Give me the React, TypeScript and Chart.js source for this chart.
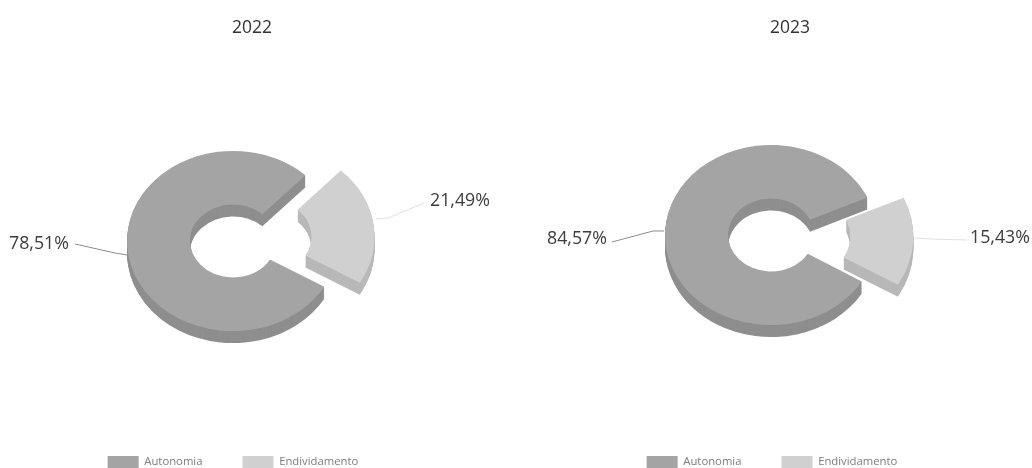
import React, { useEffect, useRef } from "react";
import { Chart, registerables, ArcElement } from "chart.js";

Chart.register(...registerables);

const categories = ["Autonomia", "Endividamento"];
const values2022 = [78.51, 21.49];
const values2023 = [84.57, 15.43];
const faceColors = ["#a4a4a4", "#d0d0d0"];
const sideColors = ["#8e8e8e", "#b8b8b8"];
const FONT = "'Open Sans', sans-serif";

type Conf = {
  title: string;
  values: number[];
  rotation: number;
  offset: number;
  left: number;
  width: number;
  center: [number, number];
  legendCenter: number;
  labels: { x: number; y: number; align: CanvasTextAlign; line: number[][]; color: string }[];
};

const RADIUS = 106;
const SQUASH = 0.85;
const DEPTH = 12;

const charts: Conf[] = [
  {
    title: "2022",
    values: values2022,
    rotation: 120.5,
    offset: 140,
    left: 0,
    width: 504,
    center: [233, 241],
    legendCenter: 233,
    labels: [
      { x: 9, y: 244, align: "left", color: "#8c8c8c", line: [[75, 244], [115, 253], [127, 255]] },
      { x: 430, y: 201, align: "left", color: "#e0e0e0", line: [[424, 203], [388, 218], [376, 219]] },
    ],
  },
  {
    title: "2023",
    values: values2023,
    rotation: 121,
    offset: 124,
    left: 530,
    width: 520,
    center: [241, 235],
    legendCenter: 242,
    labels: [
      { x: 17, y: 239, align: "left", color: "#8c8c8c", line: [[82, 242], [123, 231], [134, 231]] },
      { x: 440, y: 238, align: "left", color: "#e0e0e0", line: [[437, 240], [400, 239], [385, 238]] },
    ],
  },
];

function makePlugin(c: Conf) {
  return {
    id: "tilt",
    afterLayout(chart: any) {
      const lg = chart.legend;
      const dx = c.legendCenter - chart.width / 2;
      lg.left += dx;
      lg.right += dx;
      lg.top = 456 - lg.options.labels.padding;
    },
    beforeDatasetsDraw(chart: any) {
      const ctx = chart.ctx as CanvasRenderingContext2D;
      const arcs = chart.getDatasetMeta(0).data;
      const cx = arcs[0].x;
      const cy = arcs[0].y;
      ctx.save();
      ctx.translate(c.center[0], c.center[1]);
      ctx.scale(1, SQUASH);
      ctx.translate(-cx, -cy);
      for (let d = DEPTH; d >= 1; d--) {
        ctx.save();
        ctx.translate(0, d / SQUASH);
        arcs.forEach((arc: any, i: number) => {
          const ghost = Object.create(arc, {
            options: { value: { ...arc.options, backgroundColor: sideColors[i], borderColor: sideColors[i] } },
          });
          ArcElement.prototype.draw.call(ghost, ctx);
        });
        ctx.restore();
      }
    },
    afterDatasetsDraw(chart: any) {
      chart.ctx.restore();
    },
    afterDraw(chart: any) {
      const ctx = chart.ctx as CanvasRenderingContext2D;
      c.labels.forEach((l, i) => {
        ctx.save();
        ctx.strokeStyle = l.color;
        ctx.lineWidth = 1;
        ctx.beginPath();
        l.line.forEach((p, k) => (k ? ctx.lineTo(p[0], p[1]) : ctx.moveTo(p[0], p[1])));
        ctx.stroke();
        ctx.fillStyle = "#3c3c3c";
        ctx.font = `17.8px ${FONT}`;
        ctx.textAlign = l.align;
        ctx.textBaseline = "middle";
        ctx.fillText(c.values[i].toFixed(2).replace(".", ",") + "%", l.x, l.y);
        ctx.restore();
      });
    },
  };
}

function Pie({ conf }: { conf: Conf }) {
  const ref = useRef<HTMLCanvasElement>(null);
  useEffect(() => {
    const chart = new Chart(ref.current!, {
      type: "doughnut",
      data: {
        labels: categories,
        datasets: [
          {
            data: conf.values,
            backgroundColor: faceColors,
            borderWidth: 0,
            offset: [0, conf.offset],
          },
        ],
      },
      options: {
        responsive: false,
        animation: false,
        rotation: conf.rotation,
        cutout: "40.5%",
        radius: RADIUS,
        plugins: {
          tooltip: { enabled: false },
          title: {
            display: true,
            text: conf.title,
            color: "#333333",
            font: { family: FONT, size: 17.5, weight: "normal" },
            padding: { top: 18, bottom: 0 },
          },
          legend: {
            position: "bottom",
            labels: {
              boxWidth: 31,
              boxHeight: 12,
              padding: 40,
              color: "#7c7c7c",
              font: { family: FONT, size: 11.3 },
            },
          },
        },
      },
      plugins: [makePlugin(conf)],
    } as any);
    return () => chart.destroy();
  }, [conf]);
  return (
    <canvas
      ref={ref}
      width={conf.width}
      height={468}
      style={{ position: "absolute", left: conf.left, top: 0, width: conf.width, height: 468, filter: "blur(0.5px)" }}
    />
  );
}

export default function App() {
  return (
    <div style={{ position: "fixed", left: 0, top: 0, width: 1032, height: 468, overflow: "hidden", background: "#fff" }}>
      {charts.map((c) => (
        <Pie key={c.title} conf={c} />
      ))}
    </div>
  );
}
